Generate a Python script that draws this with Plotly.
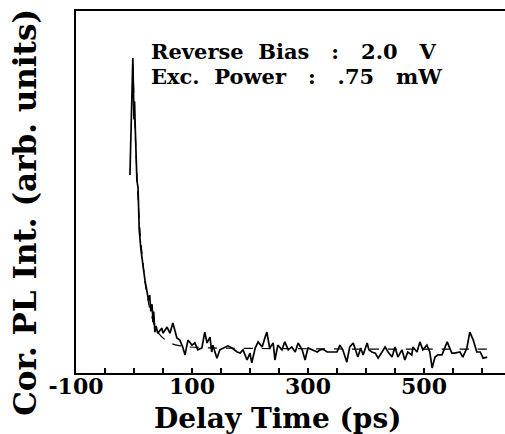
import plotly.graph_objects as go

# Measured trace (delay in ps, corrected PL intensity in arb. units)
delay_ps = [-7, -3, -2, 0, 1, 2, 3, 5, 7, 9, 12, 16, 19, 22, 25, 27, 29, 31, 33, 34, 36, 38,
            41, 48, 50, 57, 62, 67, 74, 79, 84, 88, 93, 100, 105, 110, 117, 122, 126, 131,
            134, 136, 143, 148, 157, 162, 169, 178, 183, 188, 195, 200, 203, 209, 214, 221,
            226, 229, 234, 240, 243, 248, 255, 260, 266, 272, 278, 283, 290, 295, 300, 307,
            316, 321, 326, 333, 350, 355, 360, 367, 372, 378, 383, 386, 391, 395, 402, 405,
            410, 416, 421, 428, 433, 438, 445, 450, 455, 462, 467, 472, 479, 481, 488, 493,
            498, 505, 510, 514, 519, 524, 531, 540, 548, 553, 562, 567, 574, 579, 585, 591,
            597, 602, 609]
pl_int = [0.547, 0.754, 0.870, 0.700, 0.750, 0.685, 0.616, 0.533, 0.511, 0.395, 0.340, 0.285,
          0.255, 0.229, 0.200, 0.215, 0.170, 0.190, 0.140, 0.170, 0.113, 0.130,
          0.110, 0.124, 0.110, 0.127, 0.110, 0.138, 0.097, 0.091, 0.072, 0.050, 0.091, 0.077,
          0.083, 0.064, 0.069, 0.113, 0.083, 0.099, 0.058, 0.077, 0.041, 0.064, 0.072, 0.075,
          0.069, 0.058, 0.055, 0.064, 0.036, 0.055, 0.028, 0.069, 0.086, 0.072, 0.099, 0.113,
          0.069, 0.083, 0.036, 0.077, 0.064, 0.086, 0.064, 0.072, 0.058, 0.083, 0.064, 0.036,
          0.069, 0.064, 0.058, 0.064, 0.066, 0.058, 0.058, 0.077, 0.064, 0.030, 0.072, 0.083,
          0.055, 0.044, 0.069, 0.050, 0.083, 0.064, 0.058, 0.055, 0.041, 0.058, 0.072, 0.058,
          0.044, 0.072, 0.044, 0.064, 0.036, 0.058, 0.050, 0.072, 0.058, 0.086, 0.064, 0.077,
          0.058, 0.014, 0.044, 0.050, 0.050, 0.086, 0.055, 0.055, 0.058, 0.044, 0.069, 0.113,
          0.091, 0.058, 0.058, 0.041, 0.044]

# Fitted decay curve (dashed)
fit_ps = [-2, 5, 10, 15, 20, 30, 40, 60, 80, 120, 200, 300, 400, 500, 610]
fit_int = [0.85, 0.55, 0.40, 0.31, 0.24, 0.16, 0.115, 0.085, 0.075, 0.070, 0.068, 0.067,
           0.066, 0.066, 0.066]

tick_vals = [-100, -50, 0, 50, 100, 150, 200, 250, 300, 350, 400, 450, 500, 550, 600]
tick_text = ["-100", "", "", "", "100", "", "", "", "300", "", "", "", "500", "", ""]

info_lines = ["Reverse Bias : 2.0 V", "Exc. Power : .75 mW"]
x_title = "Delay Time (ps)"
y_title = "Cor. PL Int. (arb. units)"

fam = "DejaVu Serif"
NB = "\u00a0"


def spaced(s):
    # widen word gaps to mimic the typewriter-style spacing of the original
    s = s.replace(" : ", f"{NB}{NB}{NB}:{NB}{NB}{NB}")
    parts = s.rsplit(" ", 1)
    s = (NB * 3).join(parts)
    return s.replace(" ", NB + NB)


fig = go.Figure()
fig.add_trace(go.Scatter(x=fit_ps, y=fit_int, mode="lines",
                         line=dict(color="black", width=1.2, dash="dash"),
                         line_shape="spline", hoverinfo="skip", showlegend=False))
fig.add_trace(go.Scatter(x=delay_ps, y=pl_int, mode="lines",
                         line=dict(color="black", width=1.7), showlegend=False))

fig.update_layout(
    width=505, height=434,
    margin=dict(l=76, r=0, t=11, b=61),
    paper_bgcolor="white", plot_bgcolor="white",
    xaxis=dict(range=[-100, 639.7], tickvals=tick_vals,
               ticktext=[f"<b>{t}</b>" if t else "" for t in tick_text],
               ticks="inside", ticklen=5, tickwidth=1.5, tickcolor="black",
               ticklabelstandoff=-7,
               showline=True, linecolor="black", linewidth=2, mirror=True,
               showgrid=False, zeroline=False,
               tickfont=dict(family=fam, size=22, color="black")),
    yaxis=dict(range=[0, 1], showticklabels=False, ticks="",
               showline=True, linecolor="black", linewidth=2, mirror=False,
               showgrid=False, zeroline=False),
    annotations=[
        dict(text=f"<b>{spaced(info_lines[0])}</b>", xref="paper", yref="paper",
             x=0.172, y=0.926, xanchor="left", yanchor="top", showarrow=False,
             borderpad=0, font=dict(family=fam, size=21, color="black")),
        dict(text=f"<b>{spaced(info_lines[1])}</b>", xref="paper", yref="paper",
             x=0.172, y=0.856, xanchor="left", yanchor="top", showarrow=False,
             borderpad=0, font=dict(family=fam, size=21, color="black")),
        dict(text=f"<b>{x_title}</b>", xref="paper", yref="paper",
             x=0.47, y=-0.125, xanchor="center", yanchor="middle", showarrow=False,
             font=dict(family=fam, size=28, color="black")),
        dict(text=f"<b>{y_title}</b>", xref="paper", yref="paper",
             x=-0.119, y=0.445, xanchor="center", yanchor="middle", showarrow=False,
             textangle=-90,
             font=dict(family=fam, size=31, color="black")),
    ],
)

fig.write_html("out.html")
